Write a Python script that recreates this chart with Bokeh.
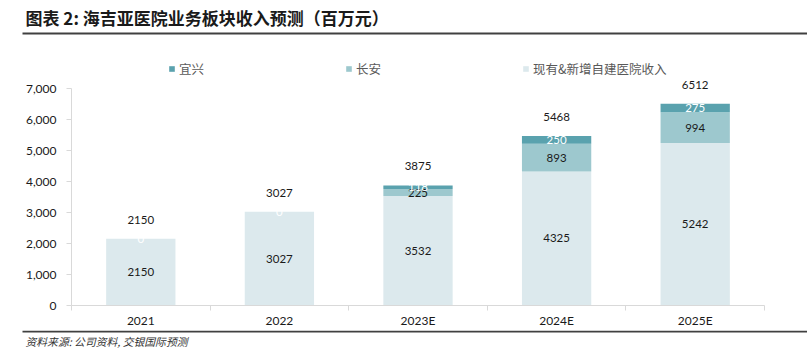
from bokeh.plotting import figure
from bokeh.layouts import column
from bokeh.core.properties import value
from bokeh.models import (ColumnDataSource, Range1d, FixedTicker,
                          NumeralTickFormatter, LabelSet, Label, Legend, LegendItem, BoxAnnotation)
from bokeh.embed import file_html
from bokeh.resources import INLINE

# ---- data ----
categories = ["2021", "2022", "2023E", "2024E", "2025E"]
base_rev = [2150, 3027, 3532, 4325, 5242]      # 现有&新增自建医院收入
changan = [0, 0, 225, 893, 994]                # 长安
yixing = [0, 0, 118, 250, 275]                 # 宜兴
totals = [2150, 3027, 3875, 5468, 6512]
y_ticks = [0, 1000, 2000, 3000, 4000, 5000, 6000, 7000]

title_text = "图表 2: 海吉亚医院业务板块收入预测（百万元）"
source_text = "资料来源: 公司资料, 交银国际预测"

C_BASE = "#DCE9ED"
C_CA = "#9DC8CE"
C_YX = "#5AA2AE"
RULE = "#404040"

NUM_FONT = "Lato"
CJK_FONT = "Noto Sans CJK SC"

W = 807
TOP_H = 36
MAIN_H = 294
BOT_H = 25

# ---- header figure (title + rule) ----
top = figure(width=W, height=TOP_H, output_backend="svg", toolbar_location=None,
             x_range=Range1d(0, W), y_range=Range1d(TOP_H, 0),
             x_axis_type=None, y_axis_type=None, min_border=0)
top.frame_align = False
top.outline_line_color = None
top.grid.visible = False
top.add_layout(Label(x=25, y=17, text=title_text, text_font=CJK_FONT, text_font_size="17px",
                     text_font_style="bold", text_color="#1a1a1a", text_baseline="middle"))
top.add_layout(BoxAnnotation(left=22, right=W, top=32, bottom=34,
                             fill_color=RULE, fill_alpha=1, line_color=None))

# ---- main chart ----
xs = [i + 0.5 for i in range(len(categories))]
src = ColumnDataSource(dict(
    x=xs,
    base=base_rev,
    changan=changan,
    yixing=yixing,
    total=totals,
    base_mid=[b / 2 for b in base_rev],
    ca_mid=[b + c / 2 for b, c in zip(base_rev, changan)],
    yx_mid=[b + c + y / 2 for b, c, y in zip(base_rev, changan, yixing)],
    base_txt=[str(v) for v in base_rev],
    ca_txt=[str(v) if v else "" for v in changan],
    yx_txt=[str(v) for v in yixing],
    total_txt=[str(v) for v in totals],
))

# frame spans from the top of this figure to the zero line; axis stops at 7000
frame_top_px, zero_px, top_tick_px = 0, 269, 52   # pixel rows inside this figure
y_max = y_ticks[-1] * (zero_px - frame_top_px) / (zero_px - top_tick_px)

p = figure(width=W, height=MAIN_H, output_backend="svg", toolbar_location=None,
           x_range=Range1d(0, len(categories)), y_range=Range1d(0, y_max),
           min_border_left=71, min_border_right=43, min_border_top=0,
           min_border_bottom=MAIN_H - zero_px)
p.frame_align = False
p.outline_line_color = None
p.xgrid.visible = False
p.ygrid.visible = False

rs = p.vbar_stack(["base", "changan", "yixing"], x="x", width=0.5, source=src,
                  color=[C_BASE, C_CA, C_YX], line_color=None)

p.yaxis.ticker = FixedTicker(ticks=y_ticks)
p.yaxis.bounds = (y_ticks[0], y_ticks[-1])
p.yaxis.formatter = NumeralTickFormatter(format="0,0")
p.yaxis.axis_line_color = "#D9D9D9"
p.yaxis.major_tick_line_color = "#D9D9D9"
p.yaxis.major_tick_in = 0
p.yaxis.major_tick_out = 5
p.yaxis.minor_tick_line_color = None
p.yaxis.major_label_text_font = NUM_FONT
p.yaxis.major_label_text_font_size = "12px"
p.yaxis.major_label_text_color = "#1a1a1a"
p.yaxis.major_label_standoff = 10

p.xaxis.ticker = FixedTicker(ticks=xs, minor_ticks=list(range(len(categories) + 1)))
p.xaxis.major_label_overrides = {x: c for x, c in zip(xs, categories)}
p.xaxis.axis_line_color = "#D9D9D9"
p.xaxis.major_tick_line_color = None
p.xaxis.major_tick_in = 0
p.xaxis.major_tick_out = 0
p.xaxis.minor_tick_line_color = "#D9D9D9"
p.xaxis.minor_tick_in = 0
p.xaxis.minor_tick_out = 5
p.xaxis.major_label_text_font = NUM_FONT
p.xaxis.major_label_text_font_size = "12px"
p.xaxis.major_label_text_color = "#1a1a1a"
p.xaxis.major_label_standoff = 2

common = dict(source=src, x="x", text_align="center", text_baseline="middle",
              text_font=value(NUM_FONT), text_font_size="11.5px")
p.add_layout(LabelSet(y="base_mid", text="base_txt", text_color="#1a1a1a", **common))
p.add_layout(LabelSet(y="ca_mid", text="ca_txt", text_color="#1a1a1a", **common))
p.add_layout(LabelSet(y="yx_mid", text="yx_txt", text_color="#ffffff", **common))
p.add_layout(LabelSet(y="total", text="total_txt", text_color="#1a1a1a", y_offset=19, **common))

legend = Legend(items=[LegendItem(label="宜兴", renderers=[rs[2]]),
                       LegendItem(label="长安", renderers=[rs[1]]),
                       LegendItem(label="现有&新增自建医院收入", renderers=[rs[0]])],
                orientation="horizontal", location=(97, 227),
                glyph_width=7, glyph_height=7, label_width=160, label_height=20,
                label_standoff=4, spacing=6, padding=0, margin=0,
                border_line_color=None, background_fill_alpha=0,
                label_text_font=CJK_FONT, label_text_font_size="12.5px",
                label_text_color="#595959")
p.add_layout(legend, "center")

# ---- footer figure (rule + source) ----
bot = figure(width=W, height=BOT_H, output_backend="svg", toolbar_location=None,
             x_range=Range1d(0, W), y_range=Range1d(BOT_H, 0),
             x_axis_type=None, y_axis_type=None, min_border=0)
bot.frame_align = False
bot.outline_line_color = None
bot.grid.visible = False
bot.add_layout(BoxAnnotation(left=22, right=W, top=0, bottom=2,
                             fill_color=RULE, fill_alpha=1, line_color=None))
bot.add_layout(Label(x=25, y=10, text=source_text, text_font=CJK_FONT, text_font_size="10.8px",
                     text_font_style="italic", text_color="#333333", text_baseline="middle"))

layout = column(top, p, bot, spacing=0)
open("out.html", "w").write(file_html(layout, INLINE))
